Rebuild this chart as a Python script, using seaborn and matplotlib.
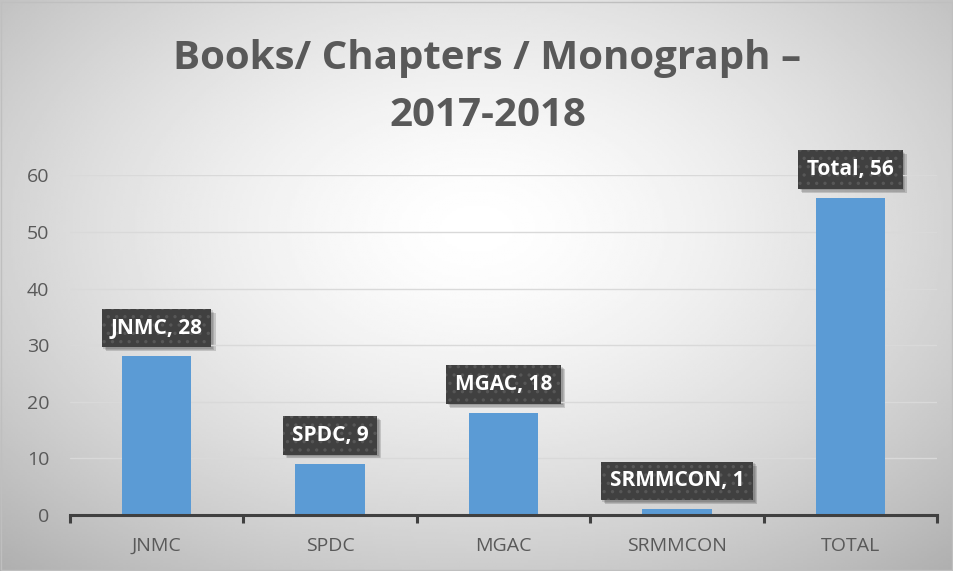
import numpy as np
import pandas as pd
import matplotlib
matplotlib.use("Agg")
import matplotlib.pyplot as plt
import seaborn as sns

# data
colleges = ["JNMC", "SPDC", "MGAC", "SRMMCON", "TOTAL"]
box_names = ["JNMC", "SPDC", "MGAC", "SRMMCON", "Total"]
counts = [28, 9, 18, 1, 56]
yticks = [0, 10, 20, 30, 40, 50, 60]

df = pd.DataFrame({"college": colleges, "count": counts})

sns.set_style("white")
plt.rcParams["font.family"] = ["Open Sans", "DejaVu Sans"]
plt.rcParams["hatch.linewidth"] = 1.2

fig = plt.figure(figsize=(9.54, 5.71), dpi=100)

# radial gradient background
bg = fig.add_axes([0, 0, 1, 1], zorder=-2)
gx, gy = np.meshgrid(np.linspace(-1, 1, 400), np.linspace(-1, 1, 240))
r = np.sqrt(((gx - 0.0) / 1.1) ** 2 + ((gy + 0.2) / 1.2) ** 2)
shade = np.clip(1.0 - 0.2 * r ** 1.5, 0, 1)
bg.imshow(shade, cmap="gray", vmin=0, vmax=1, aspect="auto", extent=[0, 1, 0, 1])
bg.set_axis_off()
bg.add_patch(plt.Rectangle((0.001, 0.002), 0.997, 0.995, transform=bg.transAxes,
                           fill=False, edgecolor="#bfbfbf", lw=1))

ax = fig.add_axes([0.0734, 0.098, 0.909, 0.595], zorder=2)
ax.set_facecolor("none")
sns.barplot(data=df, x="college", y="count", color="#5B9BD5", width=0.4,
            saturation=1, ax=ax, zorder=3, edgecolor="none", linewidth=0)

ax.set_ylim(0, 60)
ax.set_xlim(-0.5, 4.5)
ax.set_yticks(yticks)
ax.set_xlabel("")
ax.set_ylabel("")
ax.grid(axis="y", color="#d9d9d9", lw=1, zorder=0)
for s in ["top", "right", "left"]:
    ax.spines[s].set_visible(False)
ax.spines["bottom"].set_color("#404040")
ax.spines["bottom"].set_linewidth(2.2)
ax.spines["bottom"].set_zorder(4)
ax.tick_params(axis="y", length=0, pad=15, labelsize=14, labelcolor="#595959")
ax.tick_params(axis="x", which="major", length=0, pad=16, labelsize=14,
               labelcolor="#595959")
ax.set_xticks(np.arange(-0.5, 5, 1), minor=True)
ax.tick_params(axis="x", which="minor", bottom=True, length=6, width=2.2,
               color="#404040")

# data label boxes
labels = []
for i, (name, v) in enumerate(zip(box_names, counts)):
    t = ax.annotate(f"{name}, {v}", xy=(i, v), xytext=(0, 20.5),
                    textcoords="offset points", ha="center", va="center",
                    fontsize=15, fontweight="bold", color="white",
                    annotation_clip=False, zorder=6,
                    bbox=dict(boxstyle="square,pad=0.42", facecolor="#404040",
                              edgecolor="#575757", hatch="..", lw=0))
    labels.append(t)

fig.text(0.511, 0.848, "Books/ Chapters / Monograph –\n2017-2018", ha="center",
         va="center", fontsize=29, fontweight="bold", color="#595959",
         linespacing=1.6)

# soft shadows behind the label boxes
fig.canvas.draw()
rend = fig.canvas.get_renderer()
for t in labels:
    ext = t.get_bbox_patch().get_window_extent(rend)
    for k, a in enumerate([0.12, 0.12, 0.15]):
        off = 1.5 + k * 1.3
        sh = plt.Rectangle((ext.x0 + off, ext.y0 - off), ext.width, ext.height,
                           transform=None, facecolor="black", alpha=a, lw=0,
                           zorder=1)
        fig.add_artist(sh)

fig.savefig("out.png", dpi=100)
